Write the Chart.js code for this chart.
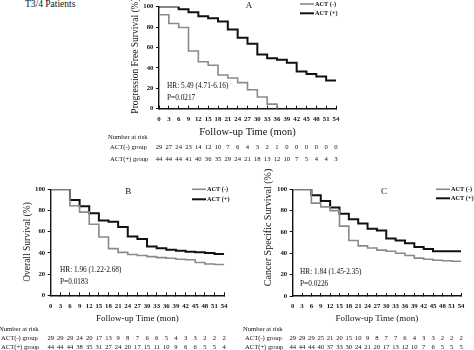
<!DOCTYPE html>
<html>
<head>
<meta charset="utf-8">
<script src="https://cdn.jsdelivr.net/npm/chart.js@4.4.1/dist/chart.umd.min.js"></script>
<style>
  body { margin: 0; background: #fff; }
  #wrap { position: relative; width: 474px; height: 350px; overflow: hidden; }
  canvas { position: absolute; }
  #heading { position: absolute; left: 25px; top: -1px; font: 9.5px "Liberation Serif", serif; color: #111; }
</style>
</head>
<body>
<div id="wrap">
  <div id="heading">T3/4 Patients</div>
  <canvas id="chartA" width="260" height="165" style="left:100px;top:0"></canvas>
  <canvas id="chartB" width="237" height="182" style="left:0;top:168px"></canvas>
  <canvas id="chartC" width="237" height="182" style="left:237px;top:168px"></canvas>
</div>
<script>
// follow-up time points (months)
const months = [0, 3, 6, 9, 12, 15, 18, 21, 24, 27, 30, 33, 36, 39, 42, 45, 48, 51, 54];

// A: progression free survival (%)
const pfsNeg = [92, 83.5, 79.5, 56.5, 46, 42.5, 33, 30, 25.5, 18.5, 11.5, 4.5, 0];
const pfsPos = [100, 100, 97.5, 94.5, 90.5, 88.5, 85.5, 77.5, 69.5, 63.5, 53, 49.5, 48, 45, 36.5, 34, 31.5, 27.5, 27.5];
// B: overall survival (%)
const osNeg = [100, 100, 84.5, 78.5, 67, 55, 44, 40.5, 38.5, 37.5, 36.5, 35.5, 35, 34, 33.5, 31, 29.5, 29, 28.5];
const osPos = [100, 100, 90, 84, 77.5, 70.5, 69.5, 64.5, 55.5, 53, 46, 44.5, 43, 42, 41, 40.5, 40, 39, 39];
// C: cancer specific survival (%)
const cssNeg = [100, 100, 87, 83.5, 80, 65.5, 52, 47, 45, 43, 42, 40, 38, 35.5, 34.5, 33.5, 33, 32.5, 32];
const cssPos = [100, 100, 94.5, 89, 83, 77, 72, 68, 63, 61.5, 54, 52, 49.5, 46, 44, 42, 42, 42, 42];

// number at risk
const riskPfsNeg = [29, 27, 24, 23, 14, 12, 10, 7, 6, 4, 3, 2, 1, 0, 0, 0, 0, 0, 0];
const riskPfsPos = [44, 44, 44, 41, 40, 36, 35, 29, 24, 21, 18, 13, 12, 10, 7, 5, 4, 4, 3];
const riskOsNeg = [29, 29, 29, 24, 20, 17, 13, 9, 8, 7, 6, 6, 5, 4, 3, 3, 2, 2, 2];
const riskOsPos = [44, 44, 44, 38, 35, 31, 27, 24, 20, 17, 15, 11, 10, 9, 6, 6, 5, 5, 4];
const riskCssNeg = [29, 29, 29, 25, 21, 20, 15, 10, 9, 8, 7, 7, 6, 4, 3, 3, 2, 2, 2];
const riskCssPos = [44, 44, 44, 40, 37, 33, 30, 24, 21, 20, 17, 13, 12, 10, 7, 6, 5, 5, 5];

const GRAY = '#8a8a8a';
const BLACK = '#111';
const SERIF = '"Liberation Serif", "Times New Roman", serif';

function points(values) {
  return values.map((v, i) => ({ x: months[i], y: v }));
}

// legend, panel letter, HR text, rotated y title and risk table
const panelText = {
  id: 'panelText',
  afterDraw(chart, args, o) {
    const { ctx } = chart;
    const x = chart.scales.x;
    ctx.save();
    ctx.fillStyle = BLACK;
    ctx.textBaseline = 'middle';

    ctx.textAlign = 'center';
    ctx.font = `9px ${SERIF}`;
    ctx.fillText(o.letter, o.letterX, o.letterY);

    ctx.textAlign = 'left';
    ctx.font = `7.3px ${SERIF}`;
    o.stats.forEach((s, i) => ctx.fillText(s, o.statX, o.statY[i]));

    ctx.font = `bold 6.3px ${SERIF}`;
    chart.data.datasets.forEach((ds, i) => {
      const y = o.legendY[i];
      ctx.strokeStyle = ds.borderColor;
      ctx.lineWidth = ds.borderWidth;
      ctx.beginPath();
      ctx.moveTo(o.legendX, y);
      ctx.lineTo(o.legendX + 14, y);
      ctx.stroke();
      ctx.fillText(ds.label, o.legendX + 15, y + 0.5);
    });

    ctx.save();
    ctx.translate(o.yTitleX, o.yTitleY);
    ctx.rotate(-Math.PI / 2);
    ctx.textAlign = 'center';
    ctx.font = `${o.yTitleSize}px ${SERIF}`;
    ctx.fillText(o.yTitle, 0, 0);
    ctx.restore();

    ctx.font = `6.6px ${SERIF}`;
    ctx.textAlign = 'left';
    ctx.fillText('Number at risk', o.tableX, o.tableY[0]);
    o.risk.forEach((row, r) => {
      const y = o.tableY[r + 1];
      ctx.textAlign = 'left';
      ctx.fillText(row.label, o.tableX + 2, y);
      ctx.textAlign = 'center';
      row.values.forEach((v, i) => ctx.fillText(v, x.getPixelForValue(months[i]), y));
    });
    ctx.restore();
  }
};

function makeKM(id, neg, pos, box, text) {
  const tickFont = { family: SERIF, size: 6.8, weight: 'bold' };
  return new Chart(document.getElementById(id), {
    type: 'line',
    data: {
      datasets: [
        { label: 'ACT (-)', data: points(neg), borderColor: GRAY, borderWidth: 1.6, stepped: 'before', pointRadius: 0 },
        { label: 'ACT (+)', data: points(pos), borderColor: BLACK, borderWidth: 2, stepped: 'before', pointRadius: 0 }
      ]
    },
    options: {
      responsive: false,
      animation: false,
      devicePixelRatio: 1,
      layout: { padding: box.padding },
      plugins: {
        legend: { display: false },
        tooltip: { enabled: false },
        panelText: text
      },
      scales: {
        x: {
          type: 'linear',
          min: 0,
          max: 54,
          afterFit: s => { s.height = box.xHeight; },
          ticks: { stepSize: 3, autoSkip: false, maxRotation: 0, padding: 9.5, color: BLACK, font: tickFont },
          grid: { drawOnChartArea: false, tickLength: -3, color: BLACK, lineWidth: 1 },
          border: { color: BLACK, width: 1.4 },
          title: { display: true, text: 'Follow-up Time (mon)', color: BLACK, padding: 0, font: { family: SERIF, size: box.xTitleSize } }
        },
        y: {
          min: 0,
          max: 100,
          afterFit: s => { s.width = box.yWidth; },
          ticks: { stepSize: 10, padding: 2.5, color: BLACK, font: tickFont },
          grid: { drawOnChartArea: false, tickLength: 3, color: BLACK, lineWidth: 1 },
          border: { color: BLACK, width: 1.4 }
        }
      }
    },
    plugins: [panelText]
  });
}

makeKM('chartA', pfsNeg, pfsPos,
  { padding: { top: 4, right: 24, bottom: 26.7, left: 0 }, yWidth: 59, xHeight: 29.6, xTitleSize: 10.5 },
  {
    letter: 'A', letterX: 149, letterY: 6,
    stats: ['HR: 5.49 (4.71-6.16)', 'P=0.0217'], statX: 67, statY: [86, 98.3],
    legendX: 200, legendY: [4, 13.3],
    yTitle: 'Progression Free Survival (%)', yTitleX: 35, yTitleY: 56, yTitleSize: 9.5,
    tableX: 8, tableY: [137, 147.3, 159],
    risk: [{ label: 'ACT(-) group', values: riskPfsNeg }, { label: 'ACT(+) group', values: riskPfsPos }]
  });

makeKM('chartB', osNeg, osPos,
  { padding: { top: 21.3, right: 8.7, bottom: 25.6, left: 0 }, yWidth: 50.7, xHeight: 29.1, xTitleSize: 9 },
  {
    letter: 'B', letterX: 128.3, letterY: 23.7,
    stats: ['HR: 1.96 (1.22-2.68)', 'P=0.0183'], statX: 60, statY: [102, 114],
    legendX: 192, legendY: [21.3, 31.3],
    yTitle: 'Overall Survival (%)', yTitleX: 27, yTitleY: 74, yTitleSize: 9.5,
    tableX: -1, tableY: [161, 170, 179],
    risk: [{ label: 'ACT(-) group', values: riskOsNeg }, { label: 'ACT(+) group', values: riskOsPos }]
  });

makeKM('chartC', cssNeg, cssPos,
  { padding: { top: 21.3, right: 0.7, bottom: 25.6, left: 0 }, yWidth: 55.7, xHeight: 28.4, xTitleSize: 9 },
  {
    letter: 'C', letterX: 147, letterY: 23.7,
    stats: ['HR: 1.84 (1.45-2.35)', 'P=0.0226'], statX: 63, statY: [104.5, 116.5],
    legendX: 199, legendY: [21.3, 30.3],
    yTitle: 'Cancer Specific Survival (%)', yTitleX: 31, yTitleY: 59.5, yTitleSize: 10,
    tableX: 6, tableY: [161, 170, 179],
    risk: [{ label: 'ACT(-) group', values: riskCssNeg }, { label: 'ACT(+) group', values: riskCssPos }]
  });
</script>
</body>
</html>
